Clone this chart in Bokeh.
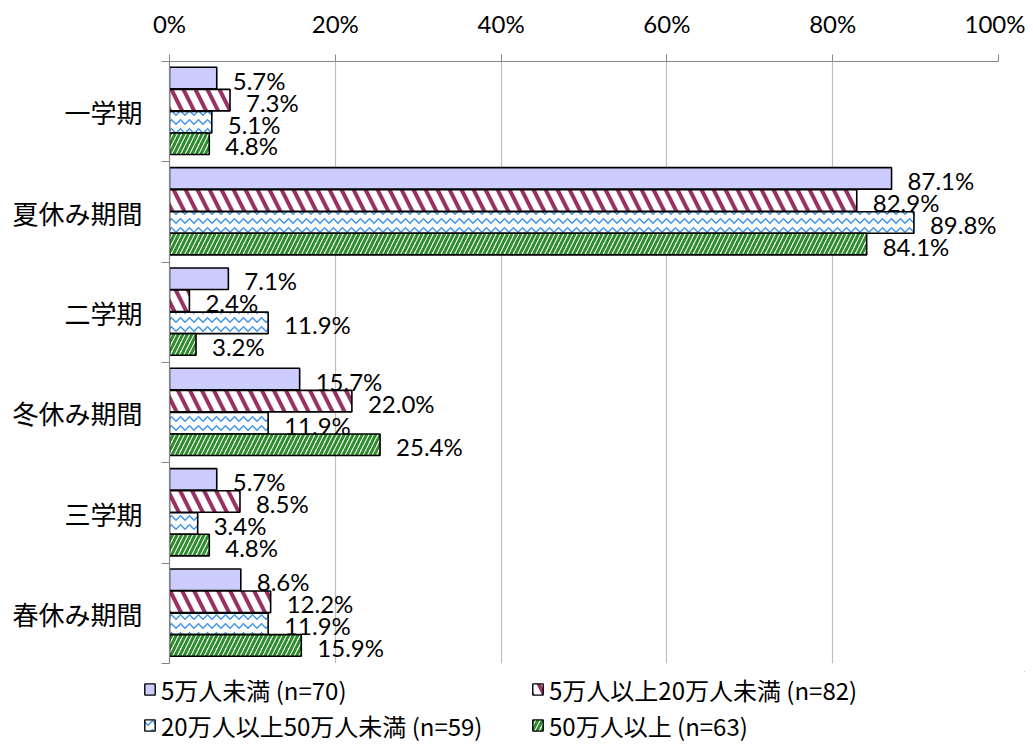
from bokeh.plotting import figure
from bokeh.layouts import column, row
from bokeh.models import (ColumnDataSource, Range1d, FixedTicker, Legend, LegendItem,
                          NumeralTickFormatter, LabelSet)
from bokeh.transform import dodge
from bokeh.core.properties import value
from bokeh.embed import file_html
from bokeh.resources import INLINE

categories = ["一学期", "夏休み期間", "二学期", "冬休み期間", "三学期", "春休み期間"]
series_names = ["5万人未満 (n=70)", "5万人以上20万人未満 (n=82)",
                "20万人以上50万人未満 (n=59)", "50万人以上 (n=63)"]
s1 = [5.7, 87.1, 7.1, 15.7, 5.7, 8.6]
s2 = [7.3, 82.9, 2.4, 22.0, 8.5, 12.2]
s3 = [5.1, 89.8, 11.9, 11.9, 3.4, 11.9]
s4 = [4.8, 84.1, 3.2, 25.4, 4.8, 15.9]
x_ticks = [0, 0.2, 0.4, 0.6, 0.8, 1.0]

series = [s1, s2, s3, s4]
styles = [
    dict(fill_color="#CCCCFF"),
    dict(fill_color="white", hatch_pattern="left_diagonal_line", hatch_color="#993366",
         hatch_scale=24, hatch_weight=4),
    dict(fill_color="white", hatch_pattern="horizontal_wave", hatch_color="#3F93E6",
         hatch_scale=9, hatch_weight=1.5),
    dict(fill_color="white", hatch_pattern="right_diagonal_line", hatch_color="#2E8B2E",
         hatch_scale=9, hatch_weight=3),
]
offsets = [-0.335, -0.115, 0.105, 0.32]

ypos = [i + 0.5 for i in range(len(categories))]

p = figure(width=1025, height=668, output_backend="svg", toolbar_location=None,
           x_range=Range1d(0, 1), y_range=Range1d(len(categories), 0),
           x_axis_location="above", min_border_left=169, min_border_right=27,
           min_border_top=61, min_border_bottom=5)
p.outline_line_color = None
p.background_fill_color = "white"
p.border_fill_color = "white"

for k, (vals, st, off) in enumerate(zip(series, styles, offsets)):
    src = ColumnDataSource(dict(y=ypos, v=[x / 100 for x in vals],
                                lab=[f"{x:.1f}%" for x in vals]))
    p.hbar(y=dodge("y", off), right="v", left=0, height=0.215, source=src,
           line_color="black", line_width=1.6, **st)
    lbl = LabelSet(x="v", y=dodge("y", off), text="lab", source=src, x_offset=16,
                   y_offset=-2, text_font=value("Lato"), text_font_size="24px",
                   text_baseline="middle", text_color="black")
    p.add_layout(lbl)

# x axis
xa = p.xaxis[0]
xa.ticker = FixedTicker(ticks=x_ticks)
xa.formatter = NumeralTickFormatter(format="0%")
xa.axis_line_color = "#868686"
xa.major_tick_line_color = "#868686"
xa.major_tick_out = 7
xa.major_tick_in = 0
xa.minor_tick_line_color = None
xa.major_label_text_font = "Lato"
xa.major_label_text_font_size = "24px"
xa.major_label_text_color = "black"
xa.major_label_standoff = 17

p.xgrid.grid_line_color = "#BFBFBF"
p.xgrid.grid_line_width = 1.2
p.xgrid.ticker = FixedTicker(ticks=x_ticks)
p.ygrid.grid_line_color = None

ya = p.yaxis[0]
ya.ticker = FixedTicker(ticks=ypos, minor_ticks=list(range(len(categories) + 1)))
ya.major_label_overrides = {y: c for y, c in zip(ypos, categories)}
ya.axis_line_color = "#868686"
ya.axis_line_width = 1.2
ya.major_tick_line_color = None
ya.major_tick_out = 0
ya.major_tick_in = 0
ya.minor_tick_line_color = "#868686"
ya.minor_tick_out = 8
ya.minor_tick_in = 0
ya.major_label_text_font = "Noto Sans CJK JP"
ya.major_label_text_font_size = "26px"
ya.major_label_text_color = "black"
ya.major_label_standoff = 19

# legend in its own strip below the chart
lf = figure(width=1025, height=74, output_backend="svg", toolbar_location=None,
            x_range=Range1d(0, 1), y_range=Range1d(0, 1), min_border_left=143,
            min_border_right=0, min_border_top=3, min_border_bottom=0,
            x_axis_type=None, y_axis_type=None)
lf.outline_line_color = None
lf.xgrid.grid_line_color = None
lf.ygrid.grid_line_color = None
lf.background_fill_alpha = 0
items = []
for name, st in zip(series_names, styles):
    # legend swatches only; the bar itself lies outside the visible range
    r = lf.hbar(y=[5], right=[5], left=5, height=0.2, line_color="black",
                line_width=1.4, **st)
    items.append(LegendItem(label=name, renderers=[r]))

common = dict(orientation="vertical", glyph_width=13, glyph_height=14, label_standoff=5,
              label_text_font="Noto Sans CJK JP", label_text_font_size="24px",
              label_text_color="black", label_height=36, spacing=0, padding=0,
              margin=0, border_line_color=None, background_fill_alpha=0)
legend_a = Legend(items=[items[0], items[2]], location="top_left", **common)
# frame height is 71, legend height 72: bottom offset -1 puts its top at the frame top
legend_b = Legend(items=[items[1], items[3]], location=(388, -1), **common)
lf.add_layout(legend_a, "center")
lf.add_layout(legend_b, "center")

layout = column(p, row(lf), spacing=0)
open("out.html", "w").write(file_html(layout, INLINE))
